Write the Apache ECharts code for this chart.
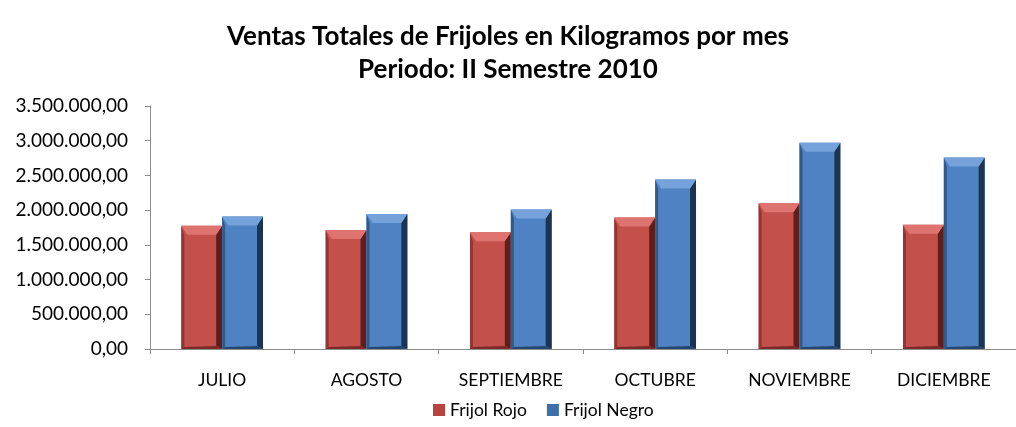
<!DOCTYPE html>
<html>
<head>
<meta charset="utf-8">
<script src="https://cdn.jsdelivr.net/npm/echarts@6/dist/echarts.min.js"></script>
<style>
  html, body { margin: 0; padding: 0; background: #fff; }
  #main { width: 1016px; height: 427px; }
</style>
</head>
<body>
<div id="main"></div>
<script>
var meses = ["JULIO", "AGOSTO", "SEPTIEMBRE", "OCTUBRE", "NOVIEMBRE", "DICIEMBRE"];
var frijolRojo = [1775000, 1715000, 1680000, 1895000, 2100000, 1790000];
var frijolNegro = [1910000, 1945000, 2010000, 2440000, 2970000, 2760000];

// colores por serie: principal, arriba, izquierda, derecha
var paletas = {
  rojo: { main: "#C4504C", top: "#DE736F", left: "#933633", right: "#5E1E1C", bottom: "#7A2A28" },
  negro: { main: "#4F82C2", top: "#75A2DA", left: "#315A8C", right: "#1B3452", bottom: "#244770" }
};

function formato(v) {
  var s = Math.round(v).toString().replace(/\B(?=(\d{3})+(?!\d))/g, ".");
  return s + ",00";
}

// barra con biselado estilo Excel
function barra(lado, pal) {
  return function (params, api) {
    var idx = api.value(0);
    var tope = api.coord([idx, api.value(1)]);
    var base = api.coord([idx, 0]);
    var banda = api.size([1, 0])[0];
    var ancho = banda * 0.283;
    var x0 = lado < 0 ? tope[0] - ancho : tope[0];
    var x1 = x0 + ancho;
    var yt = tope[1], yb = base[1];
    var b = 6, t = 9;
    return {
      type: "group",
      children: [
        { type: "rect", shape: { x: x0, y: yt, width: ancho, height: yb - yt }, style: { fill: pal.main } },
        { type: "polygon", shape: { points: [[x0, yt], [x0 + 3, yt + t], [x0 + 3, yb - 2], [x0, yb]] }, style: { fill: pal.left } },
        { type: "polygon", shape: { points: [[x1, yt], [x1, yb], [x1 - b, yb - 3], [x1 - b, yt + t]] }, style: { fill: pal.right } },
        { type: "polygon", shape: { points: [[x0, yt], [x1, yt], [x1 - b, yt + t], [x0 + b, yt + t]] }, style: { fill: pal.top } },
        { type: "polygon", shape: { points: [[x0 + 3, yb - 2], [x1 - b, yb - 3], [x1, yb], [x0, yb]] }, style: { fill: pal.bottom } }
      ]
    };
  };
}

var myChart = echarts.init(document.getElementById("main"));
myChart.setOption({
  animation: false,
  title: {
    text: "Ventas Totales de Frijoles en Kilogramos por mes\nPeriodo: II Semestre 2010",
    left: "center",
    top: 15,
    textStyle: { fontFamily: "Lato", fontWeight: "bold", fontSize: 26, lineHeight: 33, color: "#000" }
  },
  legend: {
    bottom: 3,
    left: 428,
    icon: "rect",
    itemWidth: 12,
    itemHeight: 12,
    itemGap: 20,
    textStyle: { fontFamily: "Lato", fontSize: 17.5, color: "#000" },
    data: ["Frijol Rojo", "Frijol Negro"]
  },
  grid: { left: 150, right: -4, top: 106, bottom: 78, containLabel: false },
  xAxis: {
    type: "category",
    data: meses,
    axisLine: { lineStyle: { color: "#8c8c8c" } },
    axisTick: { show: true, length: 5, lineStyle: { color: "#8c8c8c" } },
    axisLabel: { fontFamily: "Lato", fontSize: 17.5, color: "#000", margin: 22 }
  },
  yAxis: {
    type: "value",
    min: 0,
    max: 3500000,
    interval: 500000,
    splitLine: { show: false },
    axisLine: { show: true, lineStyle: { color: "#8c8c8c" } },
    axisTick: { show: true, length: 5, lineStyle: { color: "#8c8c8c" } },
    axisLabel: { fontFamily: "Lato", fontSize: 19, color: "#000", margin: 22, formatter: formato }
  },
  series: [
    {
      name: "Frijol Rojo",
      type: "custom",
      itemStyle: { color: "#B8433F" },
      renderItem: barra(-1, paletas.rojo),
      encode: { x: 0, y: 1 },
      data: frijolRojo.map(function (v, i) { return [i, v]; })
    },
    {
      name: "Frijol Negro",
      type: "custom",
      itemStyle: { color: "#3F6FA8" },
      renderItem: barra(1, paletas.negro),
      encode: { x: 0, y: 1 },
      data: frijolNegro.map(function (v, i) { return [i, v]; })
    }
  ]
});
</script>
</body>
</html>
